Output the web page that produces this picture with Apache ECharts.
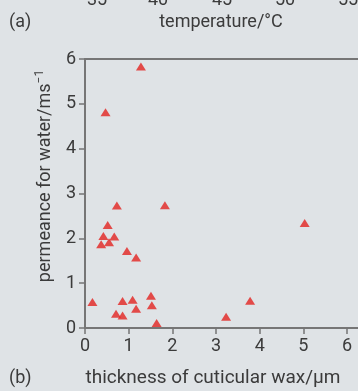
<!DOCTYPE html>
<html><head><meta charset="utf-8">
<script src="https://cdn.jsdelivr.net/npm/echarts@6/dist/echarts.min.js"></script>
<style>html,body{margin:0;padding:0;background:#dfe3e6;}#c{width:358px;height:391px;}</style>
</head><body><div id="c"></div>
<script>
// thickness of cuticular wax (µm)
const waxThickness = [0.17, 0.73, 1.83, 0.52, 0.42, 0.37, 0.55, 0.67, 0.96, 1.17, 0.86, 1.09, 1.17, 0.71, 0.86, 1.51, 1.53, 1.64, 0.47, 1.28, 5.03, 3.78, 3.23];
// permeance for water (m s^-1)
const permeance   = [0.58, 2.73, 2.74, 2.30, 2.05, 1.87, 1.91, 2.04, 1.72, 1.57, 0.60, 0.63, 0.43, 0.32, 0.28, 0.72, 0.51, 0.11, 4.81, 5.83, 2.34, 0.61, 0.25];
const xTicks = [0, 1, 2, 3, 4, 5, 6];
const yTicks = [0, 1, 2, 3, 4, 5, 6];
// tick labels of panel (a) above, cut off at the top
const topPanelTicks = ['35', '40', '45', '50', '55'];
const topPanelTickX = [97, 158, 222, 285, 348];

const points = waxThickness.map((x, i) => [x, permeance[i]]);
const txt = '#3b3b3b', axc = '#767676', font = 'Roboto';

const graphics = topPanelTicks.map((t, i) => ({
  type: 'text', x: topPanelTickX[i], y: 9,
  style: { text: t, font: '18px Roboto', fill: txt, align: 'center', verticalAlign: 'bottom' }
}));
graphics.push(
  { type: 'text', x: 9, y: 22, style: { text: '(a)', font: '18px Roboto', fill: txt, verticalAlign: 'middle' } },
  { type: 'text', x: 221, y: 22, style: { text: 'temperature/°C', font: '18px Roboto', fill: txt, align: 'center', verticalAlign: 'middle' } },
  { type: 'text', x: 9, y: 378, style: { text: '(b)', font: '18px Roboto', fill: txt, verticalAlign: 'middle' } },
  { type: 'text', x: 213, y: 378, style: { text: 'thickness of cuticular wax/μm', font: '19px Roboto', fill: txt, align: 'center', verticalAlign: 'middle' } },
  { type: 'text', x: 45, y: 176, rotation: Math.PI / 2,
    style: { text: 'permeance for water/ms{s|−1}', font: '18px Roboto', fill: txt, align: 'center', verticalAlign: 'middle',
      rich: { s: { fontSize: 12, fontFamily: font, fill: txt, color: txt, verticalAlign: 'top', padding: [0, 0, 10, 0] } } } }
);

const chart = echarts.init(document.getElementById('c'), null, { renderer: 'canvas' });
chart.setOption({
  backgroundColor: '#dfe3e6',
  animation: false,
  grid: { left: 85, right: 0, top: 59, bottom: 63, containLabel: false },
  xAxis: [{
    type: 'value', min: 0, max: 6.25, position: 'bottom',
    axisLine: { show: true, onZero: false, lineStyle: { color: axc, width: 2 } },
    axisTick: { show: true, length: 6, inside: false, customValues: xTicks, lineStyle: { color: axc, width: 1.5 } },
    axisLabel: { customValues: xTicks, color: txt, fontSize: 18, fontFamily: font, margin: 9 },
    splitLine: { show: false }
  }, {
    type: 'value', min: 0, max: 6.25, position: 'top',
    axisLine: { show: true, onZero: false, lineStyle: { color: axc, width: 2 } },
    axisTick: { show: false }, axisLabel: { show: false }, splitLine: { show: false }
  }],
  yAxis: {
    type: 'value', min: 0, max: 6, interval: 1,
    axisLine: { show: true, onZero: false, lineStyle: { color: axc, width: 2 } },
    axisTick: { show: true, length: 6, lineStyle: { color: axc, width: 1.5 } },
    axisLabel: { color: txt, fontSize: 18, fontFamily: font, margin: 9,
      formatter: v => yTicks.includes(v) ? String(v) : '' },
    splitLine: { show: false }
  },
  series: [{
    type: 'scatter', xAxisIndex: 0, data: points,
    symbol: 'triangle', symbolSize: [10, 8],
    itemStyle: { color: '#e22320' }
  }],
  graphic: graphics
});
</script></body></html>
